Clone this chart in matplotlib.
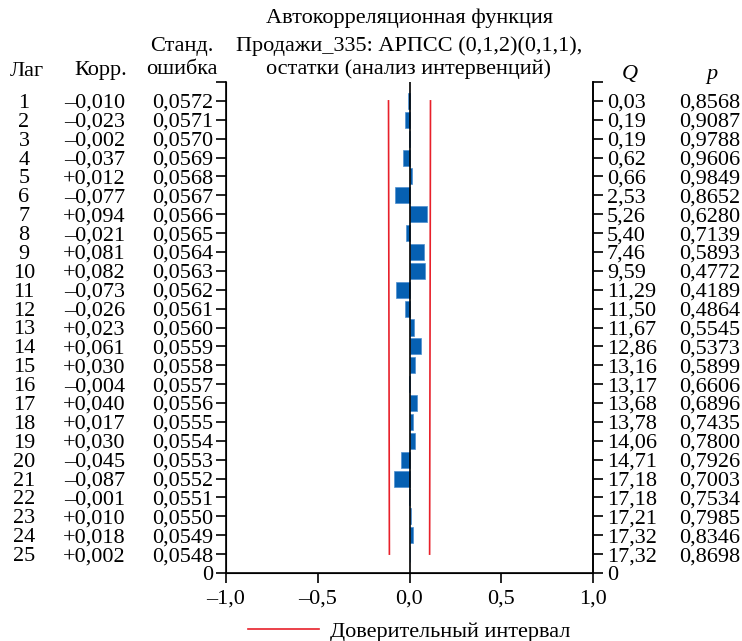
import matplotlib
matplotlib.use('Agg')
import matplotlib.pyplot as plt
from matplotlib.transforms import blended_transform_factory

plt.rcParams['font.family'] = ['Liberation Serif', 'DejaVu Serif']

lags = list(range(1, 26))
corr = [-0.010, -0.023, -0.002, -0.037, 0.012, -0.077, 0.094, -0.021, 0.081, 0.082,
        -0.073, -0.026, 0.023, 0.061, 0.030, -0.004, 0.040, 0.017, 0.030, -0.045,
        -0.087, -0.001, 0.010, 0.018, 0.002]
std_err = [0.0572, 0.0571, 0.0570, 0.0569, 0.0568, 0.0567, 0.0566, 0.0565, 0.0564, 0.0563,
           0.0562, 0.0561, 0.0560, 0.0559, 0.0558, 0.0557, 0.0556, 0.0555, 0.0554, 0.0553,
           0.0552, 0.0551, 0.0550, 0.0549, 0.0548]
q_stat = [0.03, 0.19, 0.19, 0.62, 0.66, 2.53, 5.26, 5.40, 7.46, 9.59,
          11.29, 11.50, 11.67, 12.86, 13.16, 13.17, 13.68, 13.78, 14.06, 14.71,
          17.18, 17.18, 17.21, 17.32, 17.32]
p_val = [0.8568, 0.9087, 0.9788, 0.9606, 0.9849, 0.8652, 0.6280, 0.7139, 0.5893, 0.4772,
         0.4189, 0.4864, 0.5545, 0.5373, 0.5899, 0.6606, 0.6896, 0.7435, 0.7800, 0.7926,
         0.7003, 0.7534, 0.7985, 0.8346, 0.8698]
x_ticks = [-1.0, -0.5, 0.0, 0.5, 1.0]

BLUE = '#0660b2'
RED = '#e8202a'
FS = 16


def fmt(v, nd):
    return f'{v:.{nd}f}'.replace('.', ',').replace('-', '–')


def fmt_signed(v):
    s = f'{abs(v):.3f}'.replace('.', ',')
    return ('–' if v < 0 else '+') + s


W, H = 742, 641
fig = plt.figure(figsize=(W / 100, H / 100), dpi=100)
ax = fig.add_axes([226 / W, 1 - 573 / H, (593 - 226) / W, (573 - 82) / H])

ax.barh(lags, corr, height=0.85, color=BLUE, edgecolor='#4d8fd0', linewidth=0.5, zorder=2)
ax.axvline(0, color='black', lw=1.2, zorder=3)
ci = [2 * s for s in std_err]
ax.plot(ci, lags, color=RED, lw=1.2, label='Доверительный интервал')
ax.plot([-c for c in ci], lags, color=RED, lw=1.2)

ax.set_xlim(-1, 1)
ax.set_ylim(26, 0)
ax.set_xticks(x_ticks)
ax.set_xticklabels([fmt(v, 1) for v in x_ticks], fontsize=FS)
yt = list(range(0, 27))
ax.set_yticks(yt)
ax.set_yticklabels([''] + [fmt(v, 4) for v in std_err] + ['0'], fontsize=FS)
ax.spines['top'].set_visible(False)
for s in ['left', 'bottom', 'right']:
    ax.spines[s].set_linewidth(1.2)
ax.tick_params(axis='both', direction='out', length=7, width=1.2, pad=2)
ax.tick_params(axis='x', pad=5)

ax2 = ax.twinx()
ax2.set_ylim(26, 0)
ax2.set_yticks(yt)
ax2.set_yticklabels([''] + [fmt(v, 2) for v in q_stat] + ['0'], fontsize=FS)
ax2.spines['top'].set_visible(False)
ax2.spines['right'].set_linewidth(1.2)
ax2.tick_params(axis='y', direction='out', length=7, width=1.2, pad=3)

tr = blended_transform_factory(fig.transFigure, ax.transData)
for lag, c, p in zip(lags, corr, p_val):
    ax.text(24 / W, lag, str(lag), transform=tr, ha='center', va='center_baseline', fontsize=FS)
    ax.text(125 / W, lag, fmt_signed(c), transform=tr, ha='right', va='center_baseline', fontsize=FS)
    ax.text(740 / W, lag, fmt(p, 4), transform=tr, ha='right', va='center_baseline', fontsize=FS)


def ftext(x, y, s, **kw):
    fig.text(x / W, 1 - y / H, s, va='center', fontsize=FS, **kw)


ftext(409, 18, 'Автокорреляционная функция', ha='center')
ftext(409, 46, 'Продажи_335: АРПСС (0,1,2)(0,1,1),', ha='center')
ftext(409, 69, 'остатки (анализ интервенций)', ha='center')
ftext(27, 71, 'Лаг', ha='center')
ftext(101, 71, 'Корр.', ha='center')
ftext(182, 47, 'Станд.', ha='center')
ftext(182, 70, 'ошибка', ha='center')
ftext(630, 75, 'Q', ha='center', style='italic')
ftext(712, 75, 'p', ha='center', style='italic')

fig.legend(loc='center', bbox_to_anchor=(409 / W, 1 - 632 / H), frameon=False,
           fontsize=FS, handlelength=3.2, handletextpad=0.5)

fig.savefig('out.png', dpi=100)
